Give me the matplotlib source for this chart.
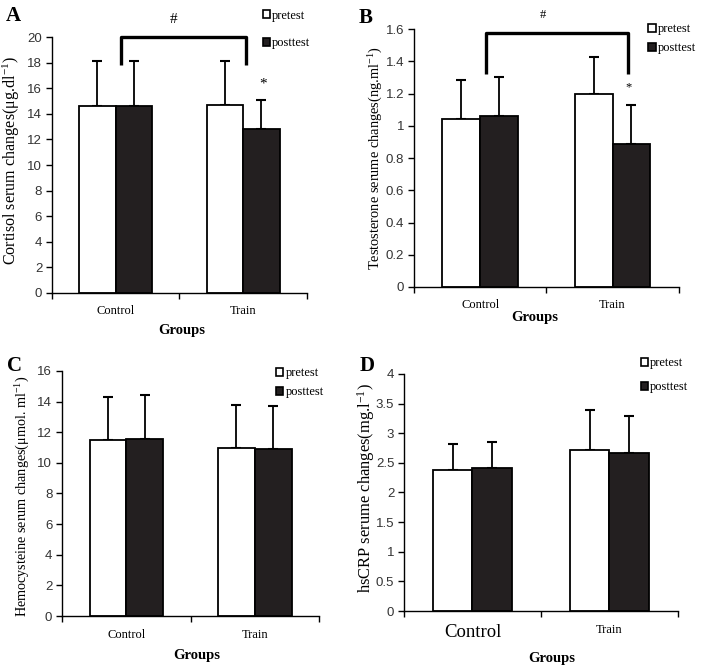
import matplotlib
matplotlib.use("Agg")
import matplotlib.pyplot as plt
import numpy as np
from matplotlib.patches import Patch, PathPatch
from matplotlib.path import Path
from matplotlib.ticker import FormatStrFormatter, FixedLocator

plt.rcParams["font.family"] = "Liberation Serif"
plt.rcParams["mathtext.fontset"] = "custom"
plt.rcParams["mathtext.rm"] = "Liberation Serif"
plt.rcParams["mathtext.it"] = "Liberation Serif:italic"

groups = ["Control", "Train"]
series = ["pretest", "posttest"]

cortisol_mean = [[14.6, 14.7], [14.65, 12.8]]
cortisol_sd = [[3.5, 3.4], [3.45, 2.25]]

testosterone_mean = [[1.045, 1.195], [1.06, 0.885]]
testosterone_sd = [[0.24, 0.235], [0.24, 0.245]]

homocysteine_mean = [[11.5, 10.95], [11.55, 10.9]]
homocysteine_sd = [[2.8, 2.85], [2.85, 2.8]]

hscrp_mean = [[2.38, 2.71], [2.41, 2.67]]
hscrp_sd = [[0.44, 0.68], [0.44, 0.62]]

BAR_COLOURS = ["white", "#231f20"]
BAR_WIDTH = 0.286
SANS = "Liberation Sans"


def draw_panel(fig, rect, means, sds, ylim, step, ylabel, label_size,
               label_pos, letter, letter_pos):
    ax = fig.add_axes(rect)
    x = np.arange(len(groups))
    for i, (mean, sd) in enumerate(zip(means, sds)):
        offset = (i - 0.5) * BAR_WIDTH
        ax.bar(x + offset, mean, BAR_WIDTH, color=BAR_COLOURS[i],
               edgecolor="black", linewidth=1.3, zorder=2)
        ax.errorbar(x + offset, mean, yerr=[np.zeros(len(sd)), sd],
                    fmt="none", ecolor="black", elinewidth=1.3,
                    capsize=3.5, capthick=1.5, zorder=1)
    ax.set_xlim(-0.5, 1.5)
    ax.set_ylim(0, ylim)
    ax.set_yticks(np.arange(0, ylim + step / 2, step))
    ax.yaxis.set_major_formatter(FormatStrFormatter("%g"))
    ax.xaxis.set_major_locator(FixedLocator([-0.5, 0.5, 1.5]))
    ax.xaxis.set_minor_locator(FixedLocator(x))
    ax.set_xticklabels([], minor=False)
    ax.set_xticklabels(groups, minor=True, fontsize=9)
    ax.tick_params(axis="x", which="major", length=4, width=1, direction="out")
    ax.tick_params(axis="x", which="minor", length=0, pad=9)
    ax.tick_params(axis="y", length=4, width=1, direction="out", pad=3)
    for lab in ax.get_yticklabels():
        lab.set_family(SANS)
        lab.set_fontsize(9.5)
        lab.set_color("#333333")
    for side in ["top", "right"]:
        ax.spines[side].set_visible(False)
    for side in ["left", "bottom"]:
        ax.spines[side].set_linewidth(1)
    ax.set_ylabel(ylabel, fontsize=label_size)
    ax.yaxis.set_label_coords(*label_pos)
    fig.text(*letter_pos, letter, fontsize=15, fontweight="bold",
             ha="center", va="center")
    return ax


def add_legend(ax, anchor, spacing):
    handles = [Patch(facecolor=c, edgecolor="black", linewidth=1.2)
               for c in BAR_COLOURS]
    ax.legend(handles, series, loc="upper left", bbox_to_anchor=anchor,
              bbox_transform=ax.figure.transFigure, frameon=False,
              fontsize=9, handlelength=0.6, handleheight=0.6,
              handletextpad=0.15, labelspacing=spacing, borderpad=0)


def add_groups_label(ax, pos):
    ax.text(*pos, "Groups", transform=ax.transAxes, ha="center",
            va="center", fontsize=10.5, fontweight="bold")


def add_bracket(ax, x0, x1, ytop, ybot):
    ax.add_patch(PathPatch(Path(
        [(x0, ybot), (x0, ytop), (x1, ytop), (x1, ybot)]),
        fill=False, lw=2.4, edgecolor="black", joinstyle="round",
        capstyle="butt", clip_on=False, zorder=3))


fig = plt.figure(figsize=(7.08, 6.68), dpi=100)

ax_a = draw_panel(fig, [0.0734, 0.5614, 0.360, 0.383], cortisol_mean,
                  cortisol_sd, 20, 2,
                  "Cortisol serum changes(μg.dl$^{-1}$)", 11.6,
                  (-0.118, 0.52), "A", (0.019, 0.976))
add_bracket(ax_a, 0.04, 1.02, 20.05, 17.8)
ax_a.text(0.45, 21.4, "#", ha="center", va="center", fontsize=11,
          clip_on=False)
ax_a.text(1.155, 16.3, "*", ha="center", va="center", fontsize=11)
add_groups_label(ax_a, (0.51, -0.145))
add_legend(ax_a, (0.362, 0.995), 1.25)

ax_b = draw_panel(fig, [0.5847, 0.5704, 0.374, 0.386], testosterone_mean,
                  testosterone_sd, 1.6, 0.2,
                  "Testosterone serume changes(ng.ml$^{-1}$)", 10.4,
                  (-0.109, 0.5), "B", (0.517, 0.973))
add_bracket(ax_b, 0.043, 1.115, 1.575, 1.32)
ax_b.text(0.47, 1.69, "#", ha="center", va="center", fontsize=9,
          clip_on=False)
ax_b.text(1.12, 1.24, "*", ha="center", va="center", fontsize=9)
add_groups_label(ax_b, (0.457, -0.12))
add_legend(ax_b, (0.907, 0.975), 0.6)

ax_c = draw_panel(fig, [0.0876, 0.0778, 0.363, 0.367], homocysteine_mean,
                  homocysteine_sd, 16, 2,
                  "Hemocysteine serum changes(μmol. ml$^{-1}$)", 10.2,
                  (-0.117, 0.49), "C", (0.02, 0.452))
add_groups_label(ax_c, (0.525, -0.16))
add_legend(ax_c, (0.381, 0.46), 0.6)

ax_d = draw_panel(fig, [0.5706, 0.0853, 0.387, 0.355], hscrp_mean,
                  hscrp_sd, 4, 0.5,
                  "hsCRP serume changes(mg.l$^{-1}$)", 11.9,
                  (-0.099, 0.52), "D", (0.519, 0.452))
ax_d.get_xticklabels(minor=True)[0].set_fontsize(13.5)
add_groups_label(ax_d, (0.54, -0.20))
add_legend(ax_d, (0.896, 0.475), 1.0)

fig.savefig("out.png", dpi=100)
